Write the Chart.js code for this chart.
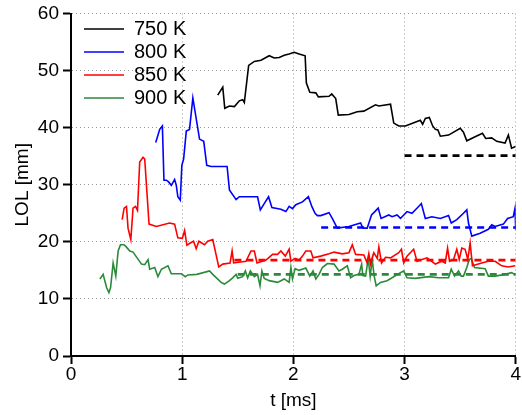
<!DOCTYPE html>
<html>
<head>
<meta charset="utf-8">
<script src="https://cdn.jsdelivr.net/npm/chart.js@4/dist/chart.umd.min.js"></script>
<style>
  html, body { margin: 0; padding: 0; background: #fff; }
  #wrap { width: 522px; height: 415px; }
</style>
</head>
<body>
<div id="wrap"><canvas id="lolChart"></canvas></div>
<script>
// LOL vs time
const seriesLabels = ['750 K', '800 K', '850 K', '900 K'];
const seriesColors = ['#000000', '#0000ff', '#ff0000', '#2a8a3a'];

const t750 = [1.32, 1.365, 1.383, 1.425, 1.47, 1.514, 1.544, 1.559, 1.598, 1.649, 1.709, 1.783, 1.828, 1.873, 1.918, 1.962, 2.007, 2.052, 2.106, 2.117, 2.148, 2.202, 2.225, 2.321, 2.345, 2.381, 2.404, 2.5, 2.574, 2.634, 2.739, 2.769, 2.874, 2.903, 2.948, 3.008, 3.142, 3.163, 3.187, 3.223, 3.253, 3.277, 3.3, 3.322, 3.396, 3.501, 3.53, 3.56, 3.635, 3.701, 3.73, 3.784, 3.829, 3.904, 3.934, 3.963, 3.999];
const lol750 = [45.7, 47.1, 43.4, 43.8, 43.7, 44.7, 44.9, 44.4, 50.9, 51.6, 51.8, 52.6, 52.2, 52.3, 52.7, 52.9, 53.2, 52.9, 52.6, 47.8, 46.2, 46.1, 45.4, 45.5, 45.9, 45.1, 42.2, 42.3, 42.8, 42.9, 44.0, 43.8, 44.1, 40.8, 40.3, 40.3, 41.3, 40.6, 41.6, 41.8, 40.3, 39.7, 39.6, 38.5, 38.7, 39.9, 39.2, 37.7, 38.4, 39.0, 38.1, 38.2, 37.6, 37.3, 38.7, 36.4, 36.7];

const t800 = [0.762, 0.798, 0.822, 0.836, 0.858, 0.878, 0.902, 0.932, 0.947, 0.961, 0.983, 0.997, 1.013, 1.037, 1.066, 1.096, 1.156, 1.194, 1.221, 1.261, 1.404, 1.425, 1.485, 1.514, 1.678, 1.703, 1.738, 1.777, 1.807, 1.888, 1.933, 1.962, 1.992, 2.022, 2.082, 2.135, 2.166, 2.195, 2.216, 2.246, 2.321, 2.35, 2.395, 2.5, 2.605, 2.625, 2.664, 2.703, 2.733, 2.763, 2.789, 2.858, 2.888, 2.933, 2.963, 3.022, 3.067, 3.127, 3.151, 3.187, 3.246, 3.322, 3.396, 3.42, 3.47, 3.53, 3.56, 3.575, 3.605, 3.68, 3.754, 3.784, 3.815, 3.889, 3.927, 3.978, 3.994, 4.0];
const lol800 = [37.4, 39.7, 40.3, 30.8, 30.8, 30.5, 29.9, 30.9, 29.9, 27.9, 27.3, 33.4, 34.5, 39.4, 39.7, 45.2, 38.0, 37.6, 33.4, 33.2, 33.2, 29.1, 27.4, 27.9, 27.9, 25.6, 26.7, 27.9, 26.0, 25.7, 25.3, 26.2, 25.8, 26.5, 27.0, 27.9, 26.2, 25.0, 24.6, 24.6, 25.1, 24.1, 22.4, 22.7, 23.3, 22.4, 22.4, 24.7, 25.3, 25.9, 24.1, 24.7, 24.4, 24.7, 24.1, 25.3, 25.0, 26.2, 26.7, 24.1, 24.4, 24.1, 24.6, 23.3, 23.9, 25.0, 25.6, 23.3, 21.0, 21.5, 22.2, 23.0, 22.7, 23.1, 24.1, 24.4, 25.9, 22.1];

const t850 = [0.46, 0.478, 0.499, 0.513, 0.538, 0.558, 0.58, 0.598, 0.618, 0.648, 0.663, 0.702, 0.768, 0.887, 0.932, 0.961, 1.001, 1.022, 1.042, 1.073, 1.102, 1.126, 1.15, 1.201, 1.23, 1.275, 1.329, 1.365, 1.431, 1.449, 1.463, 1.574, 1.619, 1.649, 1.673, 1.754, 1.813, 1.858, 1.888, 1.927, 1.962, 1.978, 2.016, 2.052, 2.082, 2.112, 2.157, 2.177, 2.246, 2.321, 2.366, 2.44, 2.5, 2.53, 2.56, 2.634, 2.664, 2.679, 2.694, 2.724, 2.754, 2.769, 2.793, 2.829, 2.874, 2.948, 2.972, 2.993, 3.022, 3.082, 3.112, 3.157, 3.202, 3.277, 3.336, 3.366, 3.387, 3.405, 3.441, 3.47, 3.492, 3.515, 3.545, 3.569, 3.59, 3.611, 3.694, 3.754, 3.815, 3.874, 3.934, 3.994];
const lol850 = [23.9, 25.9, 26.2, 22.4, 20.4, 25.9, 26.2, 25.5, 34.0, 34.8, 34.5, 23.1, 22.7, 23.3, 23.1, 20.7, 20.6, 22.0, 19.4, 19.8, 20.1, 18.8, 20.1, 19.5, 20.1, 20.4, 15.6, 16.1, 16.3, 18.4, 16.3, 16.6, 18.4, 18.4, 16.3, 16.8, 17.8, 17.8, 18.4, 17.5, 18.7, 16.6, 17.1, 16.8, 17.5, 18.4, 18.4, 17.2, 17.5, 17.9, 18.2, 17.9, 18.1, 19.5, 17.8, 17.7, 16.3, 17.9, 16.1, 18.1, 17.1, 19.1, 16.3, 17.3, 17.2, 18.1, 18.7, 16.3, 17.5, 18.7, 16.6, 16.9, 17.2, 16.1, 16.6, 16.3, 18.9, 16.6, 16.9, 18.7, 16.9, 18.9, 18.7, 16.9, 19.8, 15.8, 16.3, 16.6, 16.6, 15.8, 15.6, 15.8];

const t900 = [0.26, 0.289, 0.32, 0.341, 0.356, 0.379, 0.403, 0.424, 0.445, 0.475, 0.493, 0.529, 0.558, 0.634, 0.663, 0.693, 0.708, 0.753, 0.782, 0.813, 0.872, 0.902, 0.992, 1.028, 1.051, 1.132, 1.246, 1.275, 1.35, 1.38, 1.425, 1.454, 1.485, 1.5, 1.544, 1.568, 1.589, 1.613, 1.649, 1.678, 1.7, 1.717, 1.738, 1.783, 1.858, 1.918, 1.962, 1.978, 1.992, 2.016, 2.052, 2.112, 2.148, 2.177, 2.202, 2.231, 2.261, 2.306, 2.366, 2.41, 2.44, 2.485, 2.515, 2.545, 2.59, 2.614, 2.625, 2.65, 2.673, 2.691, 2.709, 2.727, 2.745, 2.784, 2.843, 2.888, 2.963, 2.993, 3.022, 3.098, 3.217, 3.306, 3.396, 3.42, 3.45, 3.486, 3.51, 3.53, 3.56, 3.582, 3.6, 3.629, 3.725, 3.754, 3.815, 3.904, 3.963, 4.0];
const lol900 = [13.5, 14.3, 12.0, 11.1, 12.0, 16.3, 14.0, 18.4, 19.5, 19.5, 19.2, 18.4, 18.2, 16.1, 16.0, 16.9, 15.2, 15.5, 13.9, 15.2, 15.8, 14.4, 14.4, 13.9, 14.2, 14.3, 14.9, 14.3, 12.9, 12.6, 13.2, 13.7, 14.3, 13.6, 13.9, 14.9, 13.7, 14.9, 13.9, 14.3, 12.3, 14.9, 13.6, 13.2, 12.9, 13.5, 12.9, 15.5, 13.5, 15.3, 15.0, 15.4, 14.0, 14.9, 13.5, 14.3, 15.5, 16.2, 16.1, 14.9, 15.2, 15.8, 13.7, 14.1, 14.3, 16.1, 14.1, 14.0, 17.1, 14.0, 16.9, 14.0, 12.3, 12.9, 13.2, 13.7, 14.6, 14.9, 13.7, 13.6, 13.9, 13.7, 13.7, 15.2, 14.0, 14.9, 14.0, 14.0, 15.5, 16.9, 17.1, 15.5, 15.3, 14.0, 14.0, 14.3, 14.6, 14.2];

// quasi-steady LOL levels (dashed)
const steadyStart = [3.0, 2.25, 1.47, 1.5];
const steadyEnd = [4.0, 4.0, 4.0, 4.0];
const steadyLol = [35.1, 22.5, 16.8, 14.3];

const xTicks = [0, 1, 2, 3, 4];
const yTicks = [0, 10, 20, 30, 40, 50, 60];

const FONT = "'Liberation Sans', Arial, Helvetica, sans-serif";

const seriesT = [t750, t800, t850, t900];
const seriesLol = [lol750, lol800, lol850, lol900];

const solidSets = seriesLabels.map((label, i) => ({
  label,
  data: seriesT[i].map((t, k) => ({ x: t, y: seriesLol[i][k] })),
  borderColor: seriesColors[i],
  backgroundColor: seriesColors[i],
  borderWidth: 1.6,
  pointRadius: 0,
  tension: 0,
  fill: false,
}));

const dashedSets = seriesLabels.map((label, i) => ({
  label: label + ' steady',
  data: [{ x: steadyStart[i], y: steadyLol[i] }, { x: steadyEnd[i], y: steadyLol[i] }],
  borderColor: seriesColors[i],
  backgroundColor: seriesColors[i],
  borderWidth: 2.6,
  borderDash: [7, 5],
  pointRadius: 0,
  fill: false,
}));

// move the legend in from the plot corner
const legendOffset = {
  id: 'legendOffset',
  afterLayout(chart) {
    if (chart.legend) {
      chart.legend.left += 10;
      chart.legend.top += 16;
    }
  },
};

const gridStyle = {
  color: '#9a9a9a',
  lineWidth: 1,
  tickColor: '#000000',
  tickWidth: 2,
  tickLength: 8,
  tickBorderDash: [],
};

const borderStyle = { display: true, color: '#000000', width: 2, dash: [1, 3] };

new Chart(document.getElementById('lolChart').getContext('2d'), {
  type: 'line',
  data: { datasets: [...solidSets, ...dashedSets] },
  plugins: [legendOffset],
  options: {
    responsive: true,
    maintainAspectRatio: false,
    animation: false,
    layout: { padding: { top: 10, right: 0, left: 0, bottom: 0 } },
    plugins: {
      tooltip: { enabled: false },
      legend: {
        position: 'chartArea',
        align: 'start',
        labels: {
          filter: (item) => item.datasetIndex < 4,
          usePointStyle: true,
          pointStyle: 'line',
          pointStyleWidth: 40,
          color: '#000000',
          font: { size: 20, family: FONT },
          padding: 3,
        },
      },
    },
    scales: {
      x: {
        type: 'linear',
        min: 0,
        max: 4,
        afterBuildTicks(scale) {
          scale.ticks = xTicks.map((v) => ({ value: v }));
        },
        afterFit(scale) {
          scale.height = 59;
        },
        grid: gridStyle,
        border: borderStyle,
        ticks: {
          color: '#000000',
          font: { size: 19, family: FONT, lineHeight: 1 },
          padding: 1,
          maxRotation: 0,
        },
        title: {
          display: true,
          text: 't [ms]',
          color: '#000000',
          font: { size: 19, family: FONT },
          padding: { top: 0, bottom: 3 },
        },
      },
      y: {
        type: 'linear',
        min: 0,
        max: 60,
        afterBuildTicks(scale) {
          scale.ticks = yTicks.map((v) => ({ value: v }));
        },
        afterFit(scale) {
          scale.width = 71;
        },
        grid: gridStyle,
        border: borderStyle,
        ticks: {
          color: '#000000',
          font: { size: 19, family: FONT, lineHeight: 1 },
          padding: 4,
        },
        title: {
          display: true,
          text: 'LOL [mm]',
          color: '#000000',
          font: { size: 19, family: FONT },
          padding: { top: 11, bottom: 0 },
        },
      },
    },
  },
});
</script>
</body>
</html>
